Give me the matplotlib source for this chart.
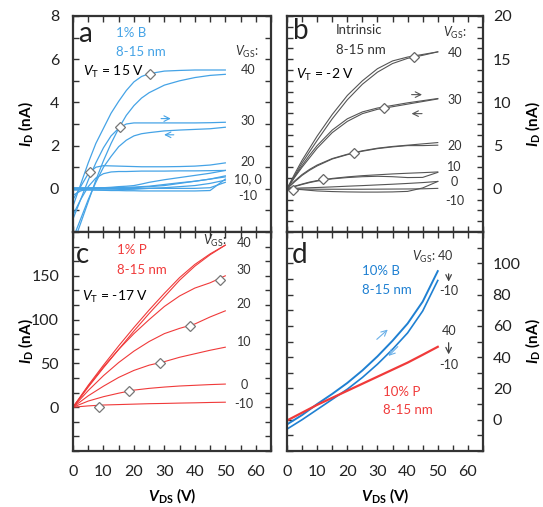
import matplotlib.pyplot as plt
from matplotlib.ticker import MultipleLocator

plt.rcParams['font.family'] = ['Lato', 'DejaVu Sans']
plt.rcParams['mathtext.fontset'] = 'custom'
plt.rcParams['mathtext.rm'] = 'Lato'
plt.rcParams['mathtext.it'] = 'Lato:italic'
plt.rcParams['mathtext.bf'] = 'Lato:bold'
plt.rcParams['mathtext.bfit'] = 'Lato:bold:italic'

# ---- panel a: 1% B (nA), forward / backward sweeps ----
vds_a = [0, 2.5, 5, 7.5, 10, 12.5, 15, 17.5, 20, 22.5, 25, 30, 35, 40, 45, 50]
a40_fwd = [-0.8, 0.2, 1.2, 2.1, 2.8, 3.5, 4.05, 4.55, 4.95, 5.2, 5.33, 5.45, 5.48, 5.5, 5.5, 5.5]
a40_bwd = [-2.6, -1.6, -0.6, 0.4, 1.3, 2.1, 2.8, 3.4, 3.85, 4.2, 4.45, 4.8, 5.0, 5.15, 5.25, 5.3]
a30_fwd = [-1.4, -0.5, 0.4, 1.2, 1.9, 2.45, 2.8, 3.0, 3.05, 3.05, 3.05, 3.05, 3.05, 3.05, 3.06, 3.08]
a30_bwd = [-2.3, -1.4, -0.5, 0.3, 1.0, 1.5, 1.95, 2.25, 2.45, 2.55, 2.6, 2.68, 2.72, 2.75, 2.78, 2.85]
a20_fwd = [-0.5, 0.1, 0.7, 1.0, 1.07, 1.06, 1.05, 1.04, 1.03, 1.02, 1.02, 1.02, 1.03, 1.05, 1.1, 1.2]
a20_bwd = [-1.2, -0.5, 0.1, 0.5, 0.7, 0.78, 0.8, 0.8, 0.81, 0.82, 0.82, 0.82, 0.83, 0.83, 0.84, 0.85]
a10_fwd = [0.0, 0.0, 0.02, 0.03, 0.05, 0.07, 0.1, 0.12, 0.15, 0.22, 0.3, 0.42, 0.52, 0.62, 0.72, 0.85]
a10_bwd = [-0.3, -0.1, 0.0, 0.0, 0.0, 0.0, 0.02, 0.03, 0.05, 0.08, 0.1, 0.15, 0.25, 0.35, 0.45, 0.6]
a0_fwd = [0.05, 0.05, 0.05, 0.05, 0.05, 0.05, 0.06, 0.07, 0.08, 0.1, 0.12, 0.2, 0.28, 0.35, 0.45, 0.55]
a0_bwd = [-0.05, -0.05, -0.05, -0.05, -0.05, -0.05, -0.04, -0.03, -0.02, 0.0, 0.02, 0.05, 0.1, 0.15, 0.25, 0.4]
am10_fwd = [0.02, 0.02, 0.02, 0.02, 0.02, 0.02, 0.02, 0.02, 0.02, 0.02, 0.02, 0.02, 0.02, 0.02, 0.05, 0.3]
am10_bwd = [-0.03, -0.04, -0.05, -0.06, -0.07, -0.08, -0.08, -0.09, -0.09, -0.1, -0.1, -0.1, -0.1, -0.1, -0.08, 0.45]
a_sat_x = [25.4, 15.5, 5.5]
a_sat_y = [5.33, 2.84, 0.8]

# ---- panel b: intrinsic ----
vds_b = [0, 2.5, 5, 7.5, 10, 15, 20, 25, 30, 35, 40, 45, 50]
b40_fwd = [0, 1.7, 3.3, 4.7, 6.1, 8.6, 10.8, 12.5, 13.9, 14.8, 15.25, 15.55, 15.85]
b40_bwd = [0, 1.5, 3.0, 4.3, 5.6, 8.1, 10.3, 12.1, 13.5, 14.5, 15.1, 15.45, 15.85]
b30_fwd = [0, 1.4, 2.7, 3.9, 5.0, 6.8, 8.1, 8.9, 9.35, 9.65, 9.95, 10.2, 10.45]
b30_bwd = [0, 1.3, 2.5, 3.6, 4.7, 6.5, 7.8, 8.7, 9.2, 9.5, 9.8, 10.1, 10.4]
b20_fwd = [0, 0.9, 1.65, 2.25, 2.75, 3.5, 4.0, 4.4, 4.7, 4.9, 5.05, 5.2, 5.35]
b20_bwd = [0, 0.8, 1.55, 2.15, 2.65, 3.45, 3.95, 4.35, 4.65, 4.85, 5.0, 5.0, 5.05]
b10_fwd = [0, 0.3, 0.55, 0.78, 0.95, 1.2, 1.38, 1.52, 1.62, 1.72, 1.8, 1.87, 1.95]
b10_bwd = [0, 0.25, 0.5, 0.72, 0.9, 1.15, 1.3, 1.4, 1.45, 1.4, 1.3, 1.32, 1.9]
b0_fwd = [0, 0.05, 0.1, 0.12, 0.15, 0.22, 0.3, 0.37, 0.45, 0.53, 0.62, 0.72, 0.85]
b0_bwd = [0, -0.05, -0.1, -0.18, -0.25, -0.32, -0.36, -0.38, -0.38, -0.36, -0.3, 0.1, 0.85]
bm10 = [0, -0.02, -0.03, -0.04, -0.05, -0.05, -0.05, -0.05, -0.04, -0.03, -0.02, 0.0, 0.05]
b_sat_x = [42, 32.1, 22.3, 12, 2]
b_sat_y = [15.3, 9.3, 4.2, 1.1, -0.1]

# ---- panel c: 1% P ----
vds_c = [0, 5, 10, 15, 20, 25, 30, 35, 40, 45, 50]
c40_fwd = [0, 25, 48, 70, 91, 111, 130, 148, 163, 175, 185]
c40_bwd = [0, 23, 45, 66, 87, 107, 126, 145, 161, 174, 185]
c30 = [0, 24, 46, 66, 84, 100, 115, 127, 136, 142, 150]
c20 = [0, 19, 36, 51, 64, 75, 84, 90, 95, 103, 110]
c10 = [0, 13, 24, 34, 42, 48, 52, 57, 61, 65, 68.5]
c0 = [0, 7, 12, 16, 19.5, 21.5, 23, 24.2, 25, 25.8, 26.4]
cm10 = [0, 1.5, 2.5, 3.0, 3.5, 4.0, 4.3, 4.7, 5.0, 5.4, 5.7]
c_sat_x = [48.2, 38.3, 28.6, 18.4, 8.5]
c_sat_y = [145, 93, 50, 18, 0]

# ---- panel d: 10% B and 10% P ----
vds_d = [0, 5, 10, 15, 20, 25, 30, 35, 40, 45, 50]
d_b_fwd = [-3, 3, 10, 16.5, 23.5, 31.5, 40.5, 50.5, 61.5, 75.5, 95]
d_b_bwd = [-6, 0, 6.5, 13, 19.5, 27, 35.5, 45, 55.5, 69.5, 89]
d_p = [-0.5, 4.5, 9.5, 14, 18.5, 23, 27.5, 32, 36.5, 41.5, 46.6]

BLUE = '#45a3e6'
DBLUE = '#1f80d2'
RED = '#f03a3a'
GRAY = '#555555'
FRAME = '#333333'

W, H = 543, 507
fig = plt.figure(figsize=(W / 100, H / 100), dpi=100)


def add_panel(x0, y0, x1, y1):
    return fig.add_axes([x0 / W, 1 - y1 / H, (x1 - x0) / W, (y1 - y0) / H])


ax_a = add_panel(73, 16, 271, 232)
ax_b = add_panel(287, 16, 483, 232)
ax_c = add_panel(73, 232, 271, 451)
ax_d = add_panel(287, 232, 483, 451)


def style(ax, ylim, yticks, ystep, right=False, xlabels=False):
    ax.set_xlim(0, 65)
    ax.set_ylim(*ylim)
    ax.set_xticks([0, 10, 20, 30, 40, 50, 60])
    ax.xaxis.set_minor_locator(MultipleLocator(5))
    ax.set_yticks(yticks)
    ax.yaxis.set_minor_locator(MultipleLocator(ystep))
    ax.tick_params(which='both', direction='in', top=True, right=True,
                   length=4, width=1, color=FRAME, labelsize=11.5,
                   labelcolor='#222222')
    ax.tick_params(axis='x', pad=10)
    ax.tick_params(axis='y', labelleft=not right, labelright=right,
                   pad=7 if right else 10)
    if not xlabels:
        ax.tick_params(axis='x', labelbottom=False)
    else:
        ax.set_xlabel(r'$\mathbfit{V}_{\mathbf{DS}}$ (V)', fontsize=11,
                      fontweight='bold', labelpad=5)
    for s in ax.spines.values():
        s.set_linewidth(1.6)
        s.set_color(FRAME)
    lab = r'$\mathbfit{I}_{\mathbf{D}}$ (nA)'
    ax.set_ylabel(lab, fontsize=11, fontweight='bold', rotation=90)
    if right:
        ax.yaxis.set_label_position('right')
        ax.yaxis.set_label_coords(1.255, 0.5)
    else:
        ax.yaxis.set_label_coords(-0.242, 0.5)
    ax.yaxis.label.set_verticalalignment('center')
    ax.yaxis.label.set_horizontalalignment('center')


style(ax_a, (-2, 8), [0, 2, 4, 6, 8], 1)
style(ax_b, (-5, 20), [0, 5, 10, 15, 20], 1.25, right=True)
style(ax_c, (-50, 200), [0, 50, 100, 150], 50 / 3, xlabels=True)
style(ax_d, (-20, 120), [0, 20, 40, 60, 80, 100], 10, right=True, xlabels=True)

# panel a curves
for ys in [a40_fwd, a40_bwd, a30_fwd, a30_bwd, a20_fwd, a20_bwd,
           a10_fwd, a10_bwd, a0_fwd, a0_bwd, am10_fwd, am10_bwd]:
    ax_a.plot(vds_a, ys, color=BLUE, lw=0.9)
ax_a.plot(a_sat_x, a_sat_y, 'D', ms=5.5, mfc='white', mec='#777777', mew=0.9, ls='none')
ax_a.annotate('', xy=(33, 3.25), xytext=(28, 3.25),
              arrowprops=dict(arrowstyle='->', color=BLUE, lw=0.8))
ax_a.annotate('', xy=(29, 2.5), xytext=(34, 2.5),
              arrowprops=dict(arrowstyle='->', color=BLUE, lw=0.8))

# panel b curves
for ys in [b40_fwd, b40_bwd, b30_fwd, b30_bwd, b20_fwd, b20_bwd,
           b10_fwd, b10_bwd, b0_fwd, b0_bwd, bm10]:
    ax_b.plot(vds_b, ys, color=GRAY, lw=0.8)
ax_b.plot(b_sat_x, b_sat_y, 'D', ms=5.5, mfc='white', mec='#666666', mew=0.9, ls='none')
ax_b.annotate('', xy=(45.7, 10.9), xytext=(40.4, 10.9),
              arrowprops=dict(arrowstyle='->', color=GRAY, lw=0.8))
ax_b.annotate('', xy=(40.4, 8.7), xytext=(45.7, 8.7),
              arrowprops=dict(arrowstyle='->', color=GRAY, lw=0.8))

# panel c curves
for ys in [c40_fwd, c40_bwd, c30, c20, c10, c0, cm10]:
    ax_c.plot(vds_c, ys, color=RED, lw=0.8)
ax_c.plot(c_sat_x, c_sat_y, 'D', ms=5.5, mfc='white', mec='#777777', mew=0.9, ls='none')

# panel d curves
ax_d.plot(vds_d, d_b_fwd, color=DBLUE, lw=1.4)
ax_d.plot(vds_d, d_b_bwd, color=DBLUE, lw=1.2)
ax_d.plot(vds_d, d_p, color=RED, lw=1.6)
ax_d.annotate('', xy=(34.1, 58.8), xytext=(29.1, 50.2),
              arrowprops=dict(arrowstyle='->', color='#6ab0e8', lw=0.8))
ax_d.annotate('', xy=(33, 39.5), xytext=(37.4, 48),
              arrowprops=dict(arrowstyle='->', color='#6ab0e8', lw=0.8))

# panel letters and captions
for ax, letter, (lx, ly) in [(ax_a, 'a', (0.06, 0.915)), (ax_b, 'b', (0.07, 0.93)),
                             (ax_c, 'c', (0.05, 0.895)), (ax_d, 'd', (0.066, 0.895))]:
    ax.text(lx, ly, letter, transform=ax.transAxes, fontsize=20, ha='center',
            va='center', color='#222222')

ax_a.text(0.217, 0.921, '1% B', transform=ax_a.transAxes, color=BLUE, fontsize=9.5, va='center')
ax_a.text(0.217, 0.833, '8-15 nm', transform=ax_a.transAxes, color=BLUE, fontsize=9.5, va='center')
ax_a.text(0.05, 0.74, r'$V_{\mathrm{T}}$ = 15 V', transform=ax_a.transAxes, fontsize=10, va='center')

ax_b.text(0.25, 0.935, 'Intrinsic', transform=ax_b.transAxes, color='#333333', fontsize=9.5, va='center')
ax_b.text(0.25, 0.843, '8-15 nm', transform=ax_b.transAxes, color='#333333', fontsize=9.5, va='center')
ax_b.text(0.046, 0.727, r'$V_{\mathrm{T}}$ = -2 V', transform=ax_b.transAxes, fontsize=10, va='center')

ax_c.text(0.22, 0.918, '1% P', transform=ax_c.transAxes, color=RED, fontsize=9.5, va='center')
ax_c.text(0.22, 0.826, '8-15 nm', transform=ax_c.transAxes, color=RED, fontsize=9.5, va='center')
ax_c.text(0.046, 0.703, r'$V_{\mathrm{T}}$ = -17 V', transform=ax_c.transAxes, fontsize=10, va='center')

ax_d.text(24.8, 95, '10% B', color=DBLUE, fontsize=9.5, va='center')
ax_d.text(24.8, 83, '8-15 nm', color=DBLUE, fontsize=9.5, va='center')
ax_d.text(31.8, 18, '10% P', color=RED, fontsize=9.5, va='center')
ax_d.text(31.8, 6.4, '8-15 nm', color=RED, fontsize=9.5, va='center')

# V_GS labels
vgs = r'$V_{\mathrm{GS}}$:'
ax_a.text(57.2, 6.35, vgs, fontsize=9, ha='center', va='center', color='#333333')
for txt, y in [('40', 5.5), ('30', 3.13), ('20', 1.24), ('10, 0', 0.46), ('-10', -0.32)]:
    ax_a.text(57.5, y, txt, fontsize=9, ha='center', va='center', color='#333333')

ax_b.text(55.6, 18.05, vgs, fontsize=9, ha='center', va='center', color='#333333')
for txt, y in [('40', 15.75), ('30', 10.3), ('20', 4.94), ('10', 2.53), ('0', 0.8), ('-10', -1.38)]:
    ax_b.text(55.6, y, txt, fontsize=9, ha='center', va='center', color='#333333')

ax_c.text(46.5, 190, vgs, fontsize=9, ha='center', va='center', color='#333333')
for txt, y in [('40', 187.7), ('30', 156.7), ('20', 117.6), ('10', 75), ('0', 25.6), ('-10', 3.8)]:
    ax_c.text(56.1, y, txt, fontsize=9, ha='center', va='center', color='#333333')

ax_d.text(48.3, 103.8, vgs + ' 40', fontsize=9, ha='center', va='center', color='#333333')
ax_d.text(53.6, 82, '-10', fontsize=9, ha='center', va='center', color='#333333')
ax_d.annotate('', xy=(53.6, 86.5), xytext=(53.6, 95),
              arrowprops=dict(arrowstyle='->', color='#444444', lw=0.9))
ax_d.text(53.6, 57, '40', fontsize=9, ha='center', va='center', color='#333333')
ax_d.text(53.6, 35, '-10', fontsize=9, ha='center', va='center', color='#333333')
ax_d.annotate('', xy=(53.6, 40), xytext=(53.6, 51),
              arrowprops=dict(arrowstyle='->', color='#444444', lw=0.9))

fig.savefig('out.png', dpi=100)
